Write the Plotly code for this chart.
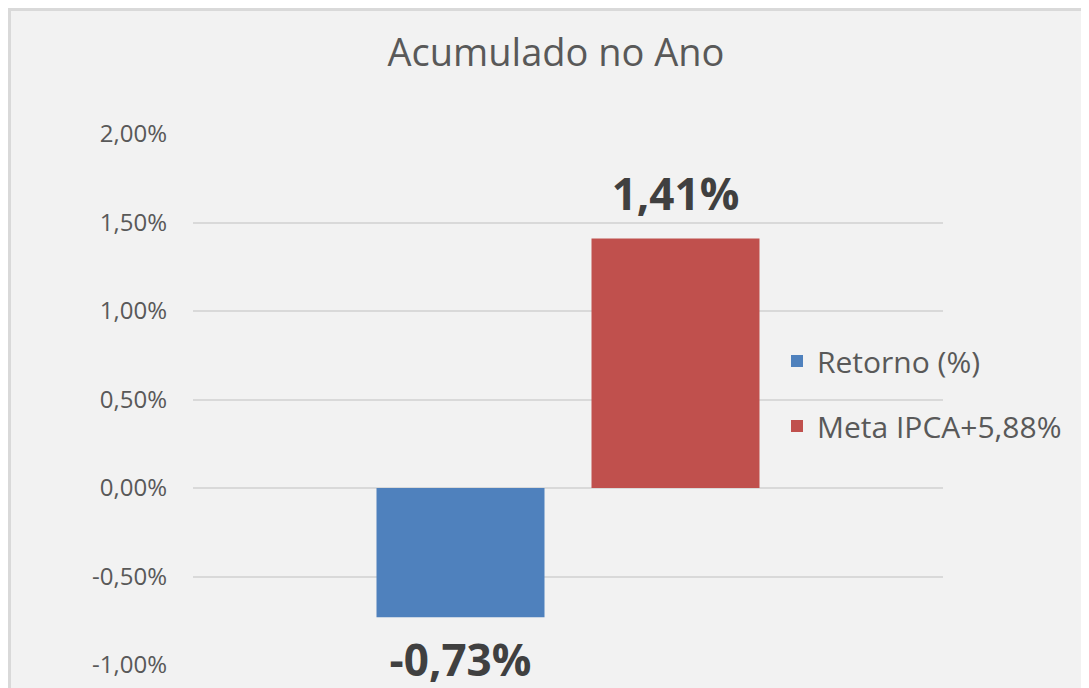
import plotly.graph_objects as go

categories = ["Acumulado no Ano"]
series_names = ["Retorno (%)", "Meta IPCA+5,88%"]
retorno = [-0.73]
meta = [1.41]
tick_vals = [-1.0, -0.5, 0.0, 0.5, 1.0, 1.5, 2.0]
tick_text = [f"{v:.2f}%".replace(".", ",") for v in tick_vals]

colors = ["#4f81bd", "#c0504d"]
FONT = "Open Sans"

OFF = 8  # page offset of the figure (body margin)
W, H = 1089, 688
L, R, T, B = 193 - OFF, W - (943 - OFF), 134 - OFF, H - (665 - OFF)
pw, ph = W - L - R, H - T - B

def px_x(x):  # page px -> paper
    return (x - OFF - L) / pw

def px_y(y):
    return (H - B - (y - OFF)) / ph

fig = go.Figure()
series = [retorno, meta]
for i, (name, vals) in enumerate(zip(series_names, series)):
    neg = vals[0] < 0
    fig.add_trace(go.Bar(
        x=categories, y=vals, name=name,
        marker=dict(color=colors[i], line=dict(width=0)),
        offsetgroup=str(i), legend="legend" if i == 0 else "legend2",
        hoverinfo="skip",
    ))
    fig.add_trace(go.Scatter(
        x=categories, y=vals, mode="markers+text",
        marker=dict(size=40 if neg else 26, opacity=0),
        text=[f"{v:.2f}%".replace(".", ",") for v in vals],
        textposition="bottom center" if neg else "top center",
        textfont=dict(family=FONT, size=44, color="#404040", weight="bold"),
        offsetgroup=str(i), showlegend=False, hoverinfo="skip", cliponaxis=False,
    ))

gap = 0.4267
fig.update_layout(
    width=W, height=H,
    margin=dict(l=L, r=R, t=T, b=B, autoexpand=False),
    paper_bgcolor="#f2f2f2", plot_bgcolor="#f2f2f2",
    barmode="group", bargap=gap, bargroupgap=0.2186,
    scattermode="group", scattergap=gap,
    font=dict(family=FONT, color="#595959"),
    title=dict(text="Acumulado no Ano", x=(556 - OFF) / W, xref="container", xanchor="center",
               y=1 - (53 - OFF) / H, yref="container", yanchor="middle",
               font=dict(family=FONT, size=38, color="#595959")),
    xaxis=dict(showticklabels=False, showgrid=False, zeroline=False, showline=False),
    yaxis=dict(range=[tick_vals[0], tick_vals[-1]], tickvals=tick_vals, ticktext=tick_text,
               showgrid=True, gridcolor="#d9d9d9",
               gridwidth=1.5, zeroline=True, zerolinecolor="#d9d9d9", zerolinewidth=1.5,
               showline=False, ticks="", ticklabelstandoff=25,
               tickfont=dict(family=FONT, size=24, color="#595959")),
    legend=dict(x=px_x(777), y=px_y(361), xanchor="left", yanchor="middle",
                bgcolor="rgba(0,0,0,0)", font=dict(family=FONT, size=30, color="#595959")),
    legend2=dict(x=px_x(777), y=px_y(426), xanchor="left", yanchor="middle",
                 bgcolor="rgba(0,0,0,0)", font=dict(family=FONT, size=30, color="#595959")),
    shapes=[dict(type="rect", xref="paper", yref="paper",
                 x0=px_x(9.5), x1=px_x(1110), y0=px_y(720), y1=px_y(9.5),
                 line=dict(color="#d9d9d9", width=3), fillcolor="rgba(0,0,0,0)", layer="above")],
    hovermode=False,
)

fig.write_html(
    "out.html",
    post_script="document.documentElement.style.overflow='hidden';document.body.style.overflow='hidden';",
)
